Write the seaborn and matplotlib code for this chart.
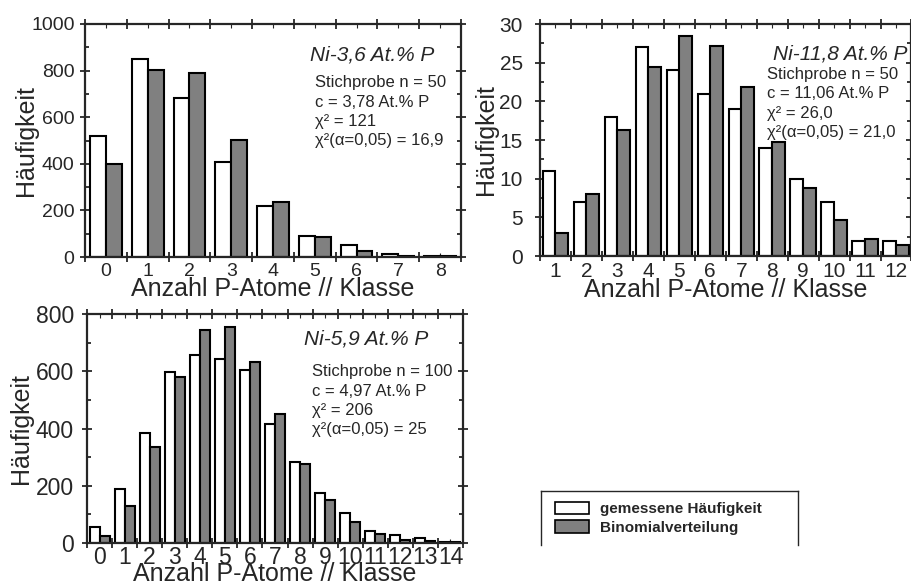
import matplotlib
matplotlib.use('Agg')
import matplotlib.pyplot as plt
import matplotlib.patches as mpatches
from matplotlib.ticker import MultipleLocator
import numpy as np
import pandas as pd
import seaborn as sns

# --- data ---
hue_names = ['gemessene Häufigkeit', 'Binomialverteilung']

klassen_36 = ['0', '1', '2', '3', '4', '5', '6', '7', '8']
gemessen_36 = [518, 848, 683, 408, 219, 92, 50, 11, 3]
binomial_36 = [398, 801, 788, 503, 236, 87, 26, 6, 4]

klassen_118 = ['1', '2', '3', '4', '5', '6', '7', '8', '9', '10', '11', '12']
gemessen_118 = [11, 7, 18, 27, 24, 21, 19, 14, 10, 7, 2, 2]
binomial_118 = [3.0, 8.0, 16.3, 24.4, 28.5, 27.2, 21.8, 14.8, 8.8, 4.7, 2.2, 1.4]

klassen_59 = ['0', '1', '2', '3', '4', '5', '6', '7', '8', '9', '10', '11', '12', '13', '14']
gemessen_59 = [55, 187, 383, 598, 657, 643, 605, 415, 284, 175, 105, 42, 29, 18, 3]
binomial_59 = [26, 128, 336, 581, 745, 756, 633, 449, 276, 150, 72, 32, 12, 6, 3]

titles = ['Ni-3,6 At.% P', 'Ni-11,8 At.% P', 'Ni-5,9 At.% P']
infos = [
    'Stichprobe n = 50\nc = 3,78 At.% P\nχ² = 121\nχ²(α=0,05) = 16,9',
    'Stichprobe n = 50\nc = 11,06 At.% P\nχ² = 26,0\nχ²(α=0,05) = 21,0',
    'Stichprobe n = 100\nc = 4,97 At.% P\nχ² = 206\nχ²(α=0,05) = 25',
]

sns.set_style('ticks')
plt.rcParams['font.family'] = ['Liberation Sans', 'DejaVu Sans']
plt.rcParams['axes.linewidth'] = 1.6
palette = {hue_names[0]: 'white', hue_names[1]: '#808080'}


def long_table(klassen, gemessen, binomial):
    return pd.DataFrame({
        'Klasse': klassen * 2,
        'Wert': gemessen + binomial,
        'Reihe': [hue_names[0]] * len(klassen) + [hue_names[1]] * len(klassen),
    })


def draw_panel(ax, klassen, gemessen, binomial, ymax, ymajor, yminor, width,
               title, info, title_pos, info_pos, ypad, ylabelpad,
               ticksize=14, xpad=4, xlabelpad=-2):
    df = long_table(klassen, gemessen, binomial)
    sns.barplot(data=df, x='Klasse', y='Wert', hue='Reihe', order=klassen,
                hue_order=hue_names, palette=palette, width=width,
                edgecolor='black', linewidth=1.5, legend=False, ax=ax)
    n = len(klassen)
    ax.set_xlim(-0.5, n - 0.5)
    ax.set_ylim(0, ymax)
    ax.yaxis.set_major_locator(MultipleLocator(ymajor))
    ax.yaxis.set_minor_locator(MultipleLocator(yminor))
    ax.set_xticks(np.arange(-0.5, n, 1.0), minor=True)
    ax.tick_params(axis='x', which='major', length=3, direction='in', top=True,
                   labelsize=ticksize, pad=xpad)
    ax.tick_params(axis='x', which='minor', length=7, width=1.3, direction='inout', top=True)
    ax.tick_params(axis='y', which='major', length=7, width=1.3, direction='inout', right=True,
                   labelsize=ticksize, pad=ypad)
    ax.tick_params(axis='y', which='minor', length=3, width=1.3, direction='in', right=True)
    ax.set_xlabel('Anzahl P-Atome // Klasse', fontsize=18, labelpad=xlabelpad)
    ax.set_ylabel('Häufigkeit', fontsize=18, labelpad=ylabelpad)
    for s in ax.spines.values():
        s.set_visible(True)
    ax.text(title_pos[0], title_pos[1], title, transform=ax.transAxes,
            ha='right', va='baseline', fontsize=15, style='italic')
    ax.text(info_pos[0], info_pos[1], info, transform=ax.transAxes,
            ha='left', va='top', fontsize=12, linespacing=1.36)


fig = plt.figure(figsize=(9.12, 5.87), dpi=100)
W, H = 912, 587


def px_axes(x0, y0, x1, y1):
    return fig.add_axes([x0 / W, 1 - y1 / H, (x1 - x0) / W, (y1 - y0) / H])


ax1 = px_axes(85, 24, 461, 257)
ax2 = px_axes(540, 24, 911.5, 256)
ax3 = px_axes(87, 314, 463, 543)

draw_panel(ax1, klassen_36, gemessen_36, binomial_36, 1000, 200, 100, 0.76,
           titles[0], infos[0], (0.93, 0.845), (0.612, 0.78), 4, -5)
draw_panel(ax2, klassen_118, gemessen_118, binomial_118, 30, 5, 2.5, 0.82,
           titles[1], infos[1], (0.99, 0.845), (0.612, 0.815), 9, 1, ticksize=15)
draw_panel(ax3, klassen_59, gemessen_59, binomial_59, 800, 200, 100, 0.8,
           titles[2], infos[2], (0.907, 0.865), (0.598, 0.78), 6, 2,
           ticksize=16.5, xpad=2, xlabelpad=-5)

# legend box (left, top, right edges only)
axl = px_axes(541, 491, 798, 545)
axl.set_xticks([])
axl.set_yticks([])
axl.patch.set_alpha(0)
axl.spines['bottom'].set_visible(False)
for s in ['left', 'top', 'right']:
    axl.spines[s].set_linewidth(1.0)
handles = [mpatches.Patch(facecolor=palette[h], edgecolor='black', linewidth=1.2) for h in hue_names]
axl.legend(handles, hue_names, loc='upper left', bbox_to_anchor=(0.055, 0.8),
           frameon=False, borderaxespad=0, borderpad=0, handlelength=2.2,
           handleheight=0.85, handletextpad=0.75, labelspacing=0.28,
           prop={'size': 11, 'weight': 'bold'})

fig.savefig('out.png', dpi=100)
